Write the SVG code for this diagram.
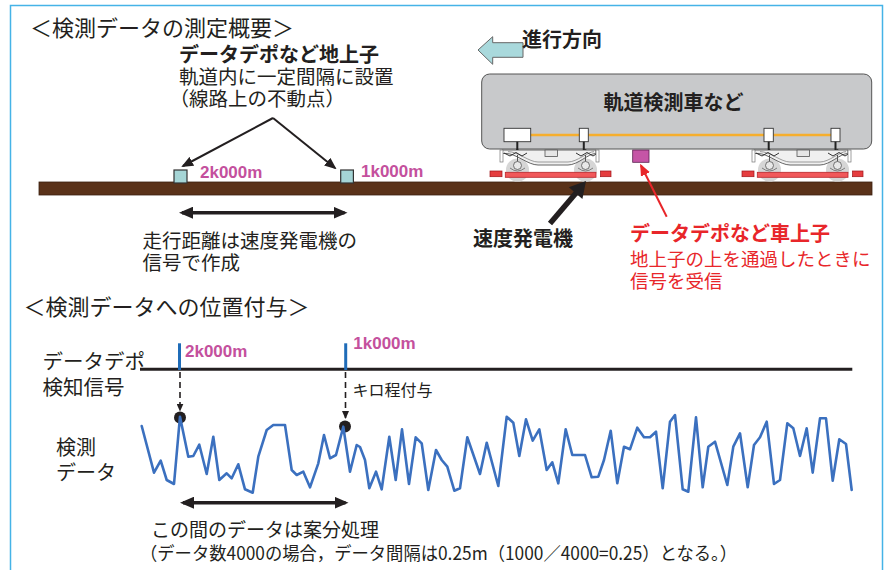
<svg xmlns="http://www.w3.org/2000/svg" xmlns:xlink="http://www.w3.org/1999/xlink" width="888" height="570" viewBox="0 0 888 570">
  <style>
    .jp { font-family: "Noto Sans CJK JP", "Noto Sans", sans-serif; fill: #231f20; }
    .b { font-weight: 700; }
    .red { fill: #e8262a; }
    .km { font-family: "Liberation Sans", Arial, sans-serif; font-weight: 700; font-size: 17px; fill: #c4509d; }
    .arrow { stroke: #231f20; stroke-width: 2; fill: none; }
    .dbl { stroke: #231f20; stroke-width: 3.5; fill: none; }
    .dash { stroke: #231f20; stroke-width: 1.6; stroke-dasharray: 6 4; fill: none; }
    .tick { stroke: #1f6cb8; stroke-width: 3; }
    .box { fill: #ffffff; stroke: #333333; stroke-width: 0.9; }
  </style>
  <defs>
    <marker id="ah" viewBox="0 0 12 10" refX="10" refY="5" markerWidth="12" markerHeight="10" markerUnits="userSpaceOnUse" orient="auto">
      <path d="M0,0 L12,5 L0,10 z" fill="#231f20"/>
    </marker>
    <marker id="ahs" viewBox="0 0 8 7" refX="7" refY="3.5" markerWidth="8" markerHeight="7" markerUnits="userSpaceOnUse" orient="auto">
      <path d="M0,0 L8,3.5 L0,7 z" fill="#231f20"/>
    </marker>
    <marker id="ahd" viewBox="0 0 14 12" refX="11" refY="6" markerWidth="14" markerHeight="12" markerUnits="userSpaceOnUse" orient="auto-start-reverse">
      <path d="M0,0 L14,6 L0,12 z" fill="#231f20"/>
    </marker>
    <marker id="ahr" viewBox="0 0 12 10" refX="10" refY="5" markerWidth="12" markerHeight="10" markerUnits="userSpaceOnUse" orient="auto">
      <path d="M0,0 L12,5 L0,10 z" fill="#e8262a"/>
    </marker>
    <!-- one bogie, drawn at the front position -->
    <g id="bogie">
      <circle cx="517.5" cy="170" r="11.5" fill="#d6d6d6"/>
      <circle cx="585.5" cy="170" r="11.5" fill="#d6d6d6"/>
      <path d="M502,150 H596 V153.5 C588,153.5 578,165 568,165 H538 C528,165 516,153.5 506,153.5 H502 Z" fill="#f0f0f0" stroke="#555" stroke-width="0.9"/>
      <path d="M508,151.6 C518,151.6 529,162 538,162 H568 C577,162 588,151.6 594,151.6" fill="none" stroke="#777" stroke-width="0.7"/>
      <rect x="545" y="150" width="12.5" height="6.5" fill="#e6e6e6" stroke="#555" stroke-width="0.8"/>
      <line x1="517.5" y1="155" x2="517.5" y2="161.5" stroke="#555" stroke-width="1"/>
      <line x1="585.5" y1="155" x2="585.5" y2="161.5" stroke="#555" stroke-width="1"/>
      <circle cx="517.5" cy="165.5" r="4" fill="#e8e8e8" stroke="#555" stroke-width="0.8"/>
      <circle cx="585.5" cy="165.5" r="4" fill="#e8e8e8" stroke="#555" stroke-width="0.8"/>
      <path d="M510,168 Q517.5,174 525,168 M578,168 Q585.5,174 593,168" fill="none" stroke="#666" stroke-width="0.8"/>
      <polyline points="504,153 510,156 516,152.5 522,156 527,153" fill="none" stroke="#333" stroke-width="1"/>
      <polyline points="576,153 581,156 587,152.5 593,156 598,153" fill="none" stroke="#333" stroke-width="1"/>
      <rect x="500" y="150" width="3" height="12" fill="#fff" stroke="#777" stroke-width="0.7"/>
      <rect x="596" y="150" width="3" height="12" fill="#fff" stroke="#777" stroke-width="0.7"/>
      <rect x="505.3" y="172.3" width="90.7" height="5" fill="#f1585a" stroke="#b8252a" stroke-width="0.8"/>
      <rect x="490" y="171" width="12" height="5.7" fill="#e53d3f" stroke="#a0161a" stroke-width="0.7"/>
      <rect x="600.5" y="171" width="10.5" height="5.7" fill="#e53d3f" stroke="#a0161a" stroke-width="0.7"/>
      <line x1="517.3" y1="142" x2="517.3" y2="150" stroke="#222" stroke-width="2"/>
      <line x1="585.3" y1="142" x2="585.3" y2="150" stroke="#222" stroke-width="2"/>
    </g>
  </defs>

  <rect x="0" y="0" width="888" height="570" fill="#ffffff"/>
  <rect id="frame" x="10.5" y="5.5" width="872" height="590" fill="none" stroke="#45b3e7" stroke-width="1.5"/>

  <!-- upper section: measurement overview -->
  <g id="title-overview">
    <text class="jp" x="30" y="35.5" font-size="22">＜検測データの測定概要＞</text>
  </g>

  <g id="rail">
    <rect x="39" y="182" width="833" height="13" fill="#5a3219" stroke="#3a2010" stroke-width="0.8"/>
  </g>

  <g id="ground-coils">
    <rect x="174" y="170" width="13" height="13" fill="#a5d5d6" stroke="#333" stroke-width="1.2"/>
    <rect x="340.7" y="170" width="12.7" height="13" fill="#a5d5d6" stroke="#333" stroke-width="1.2"/>
    <text class="km" x="200" y="178">2k000m</text>
    <text class="km" x="361" y="177">1k000m</text>
  </g>

  <g id="ground-coil-label">
    <text class="jp b" x="179" y="61.5" font-size="20">データデポなど地上子</text>
    <text class="jp" x="179" y="83.5" font-size="19.5">軌道内に一定間隔に設置</text>
    <text class="jp" x="169.5" y="106" font-size="19.5">（線路上の不動点）</text>
  </g>

  <g id="direction">
    <polygon points="478,50 492.7,36.7 492.7,42.7 523,42.7 523,57.3 492.7,57.3 492.7,64.3" fill="#a9d9dc" stroke="#666" stroke-width="1"/>
    <text class="jp b" x="522" y="46.5" font-size="20">進行方向</text>
  </g>

  <g id="inspection-car">
    <use xlink:href="#bogie"/>
    <use xlink:href="#bogie" transform="translate(252,0)"/>
    <rect x="481.7" y="74" width="390" height="75" rx="8" fill="#c8c9cb" stroke="#555" stroke-width="1"/>
    <line x1="530" y1="135" x2="831" y2="135" stroke="#f6ae2d" stroke-width="2.5"/>
    <rect class="box" x="504" y="128.3" width="26.7" height="13.4"/>
    <rect class="box" x="579.3" y="128.3" width="9" height="13.4"/>
    <rect class="box" x="764" y="128.3" width="9.3" height="13.4"/>
    <rect class="box" x="831" y="128.3" width="9" height="13.4"/>
    <line x1="517.3" y1="141.7" x2="517.3" y2="150" stroke="#222" stroke-width="2"/>
    <line x1="583.8" y1="141.7" x2="583.8" y2="150" stroke="#222" stroke-width="2"/>
    <line x1="768.7" y1="141.7" x2="768.7" y2="150" stroke="#222" stroke-width="2"/>
    <line x1="835.5" y1="141.7" x2="835.5" y2="150" stroke="#222" stroke-width="2"/>
    <text class="jp b" x="673.5" y="110" font-size="20" text-anchor="middle" fill="#333">軌道検測車など</text>
  </g>

  <g id="onboard-coil">
    <rect x="632.7" y="150" width="16.3" height="12.3" fill="#c555a6" stroke="#5a2050" stroke-width="0.8"/>
  </g>

  <g id="speed-generator-label">
    <text class="jp b" x="473" y="246" font-size="20">速度発電機</text>
  </g>

  <g id="onboard-coil-label">
    <text class="jp b red" x="630" y="241" font-size="20">データデポなど車上子</text>
    <text class="jp red" x="630" y="266" font-size="18.5">地上子の上を通過したときに</text>
    <text class="jp red" x="630" y="288" font-size="18.5">信号を受信</text>
  </g>

  <g id="distance-note">
    <text class="jp" x="142.5" y="247.5" font-size="19.5">走行距離は速度発電機の</text>
    <text class="jp" x="142.5" y="270" font-size="19.5">信号で作成</text>
  </g>

  <!-- lower section: position tagging -->
  <g id="title-tagging">
    <text class="jp" x="23.5" y="315" font-size="22">＜検測データへの位置付与＞</text>
  </g>

  <g id="depo-signal">
    <text class="jp" x="42.5" y="368.5" font-size="20.5">データデポ</text>
    <text class="jp" x="42.5" y="394.5" font-size="20.5">検知信号</text>
    <line x1="140" y1="369.3" x2="852.3" y2="369.3" stroke="#231f20" stroke-width="3"/>
    <line class="tick" x1="179.5" y1="343.3" x2="179.5" y2="370"/>
    <line class="tick" x1="345.7" y1="343.3" x2="345.7" y2="370"/>
    <text class="km" x="185" y="356.5">2k000m</text>
    <text class="km" x="353.3" y="349.3">1k000m</text>
    <text class="jp" x="352.5" y="395.5" font-size="16">キロ程付与</text>
  </g>

  <g id="measured-data">
    <text class="jp" x="56" y="455" font-size="20">検測</text>
    <text class="jp" x="56" y="480" font-size="20">データ</text>
    <circle cx="180" cy="417.5" r="6" fill="#231f20"/>
    <circle cx="345" cy="426.5" r="6" fill="#231f20"/>
    <polyline fill="none" stroke="#3b70bf" stroke-width="2.6" stroke-linejoin="round" stroke-linecap="round"
      points="141.7,426 154,472.7 160.7,460.7 166.7,480 174,484 180,416.7 188.3,456.7 193.3,456 199.3,444.7 206.7,474 213.3,436.7 219.3,480 226.7,473.3 231.7,478.3 238.3,464.3 245,489.3 252.7,492.7 258.3,456.7 266.7,430 273.3,425 285,425 291.7,470 296.7,475 303.3,471.7 310,487.3 318.3,463.3 324,435 330,458.3 336,455 343.3,426.7 350,471.7 356.7,445 360,447 365,460 369.3,488.3 376,471.7 381.7,489.3 389.3,436.7 395.7,480 402,429.3 409,484 415.7,437.3 421.7,443.3 428.3,490 436,450 441.7,460 447.3,466.7 454.3,490.7 460,488.3 467.3,437.3 480,474 486.7,442.7 498.3,486 506.7,416.7 513.3,422.7 519.3,456 526,419.3 532.7,440.7 539.3,429.3 546.7,470 552.3,462.3 558.3,483.3 565.7,429.3 572.3,455 585,455 591.7,477.3 598.3,476.7 604,460 610.7,430.7 617.3,483.3 624,446.7 630,449.3 637.3,427.7 644,437.3 650,437.3 656,431.7 662.7,488.3 670,421.7 675,415 682.7,489.3 688.3,491.7 696,417.3 702.7,487.3 708.3,446.7 715,441.7 727.3,485 733.3,446.7 740,433.3 747.7,487.3 754,445 760,437.3 766.7,421.7 774,484 780,480 787.3,423.3 793.3,428.3 800,456 806.7,428.3 812.7,472.7 820,418.3 826,418.3 832.7,480.7 839.3,439.3 846,444 851.7,490"/>
  </g>

  <g id="apportion-note">
    <text class="jp" x="151" y="537" font-size="19">この間のデータは案分処理</text>
    <text class="jp" x="140" y="560" font-size="18" textLength="597" lengthAdjust="spacingAndGlyphs">（データ数4000の場合，データ間隔は0.25m（1000／4000=0.25）となる。）</text>
  </g>

  <!-- connectors -->
  <g id="connectors">
    <line class="arrow" x1="273" y1="118" x2="183" y2="166" marker-end="url(#ah)"/>
    <line class="arrow" x1="273" y1="118" x2="335" y2="168" marker-end="url(#ah)"/>
    <line class="dbl" x1="182" y1="212.7" x2="344.5" y2="212.7" marker-start="url(#ahd)" marker-end="url(#ahd)"/>
    <line x1="550" y1="223.5" x2="576" y2="193" stroke="#231f20" stroke-width="5.5"/>
    <polygon points="586,181 582.4,199 568.8,187.2" fill="#231f20"/>
    <line x1="666.7" y1="216.7" x2="641" y2="165.5" stroke="#e8262a" stroke-width="2" marker-end="url(#ahr)"/>
    <line class="dash" x1="180" y1="372" x2="180" y2="410.5" marker-end="url(#ahs)"/>
    <line class="dash" x1="345.5" y1="372" x2="345.5" y2="418" marker-end="url(#ahs)"/>
    <line class="dbl" x1="183" y1="502.7" x2="345.5" y2="502.7" marker-start="url(#ahd)" marker-end="url(#ahd)"/>
  </g>
</svg>
